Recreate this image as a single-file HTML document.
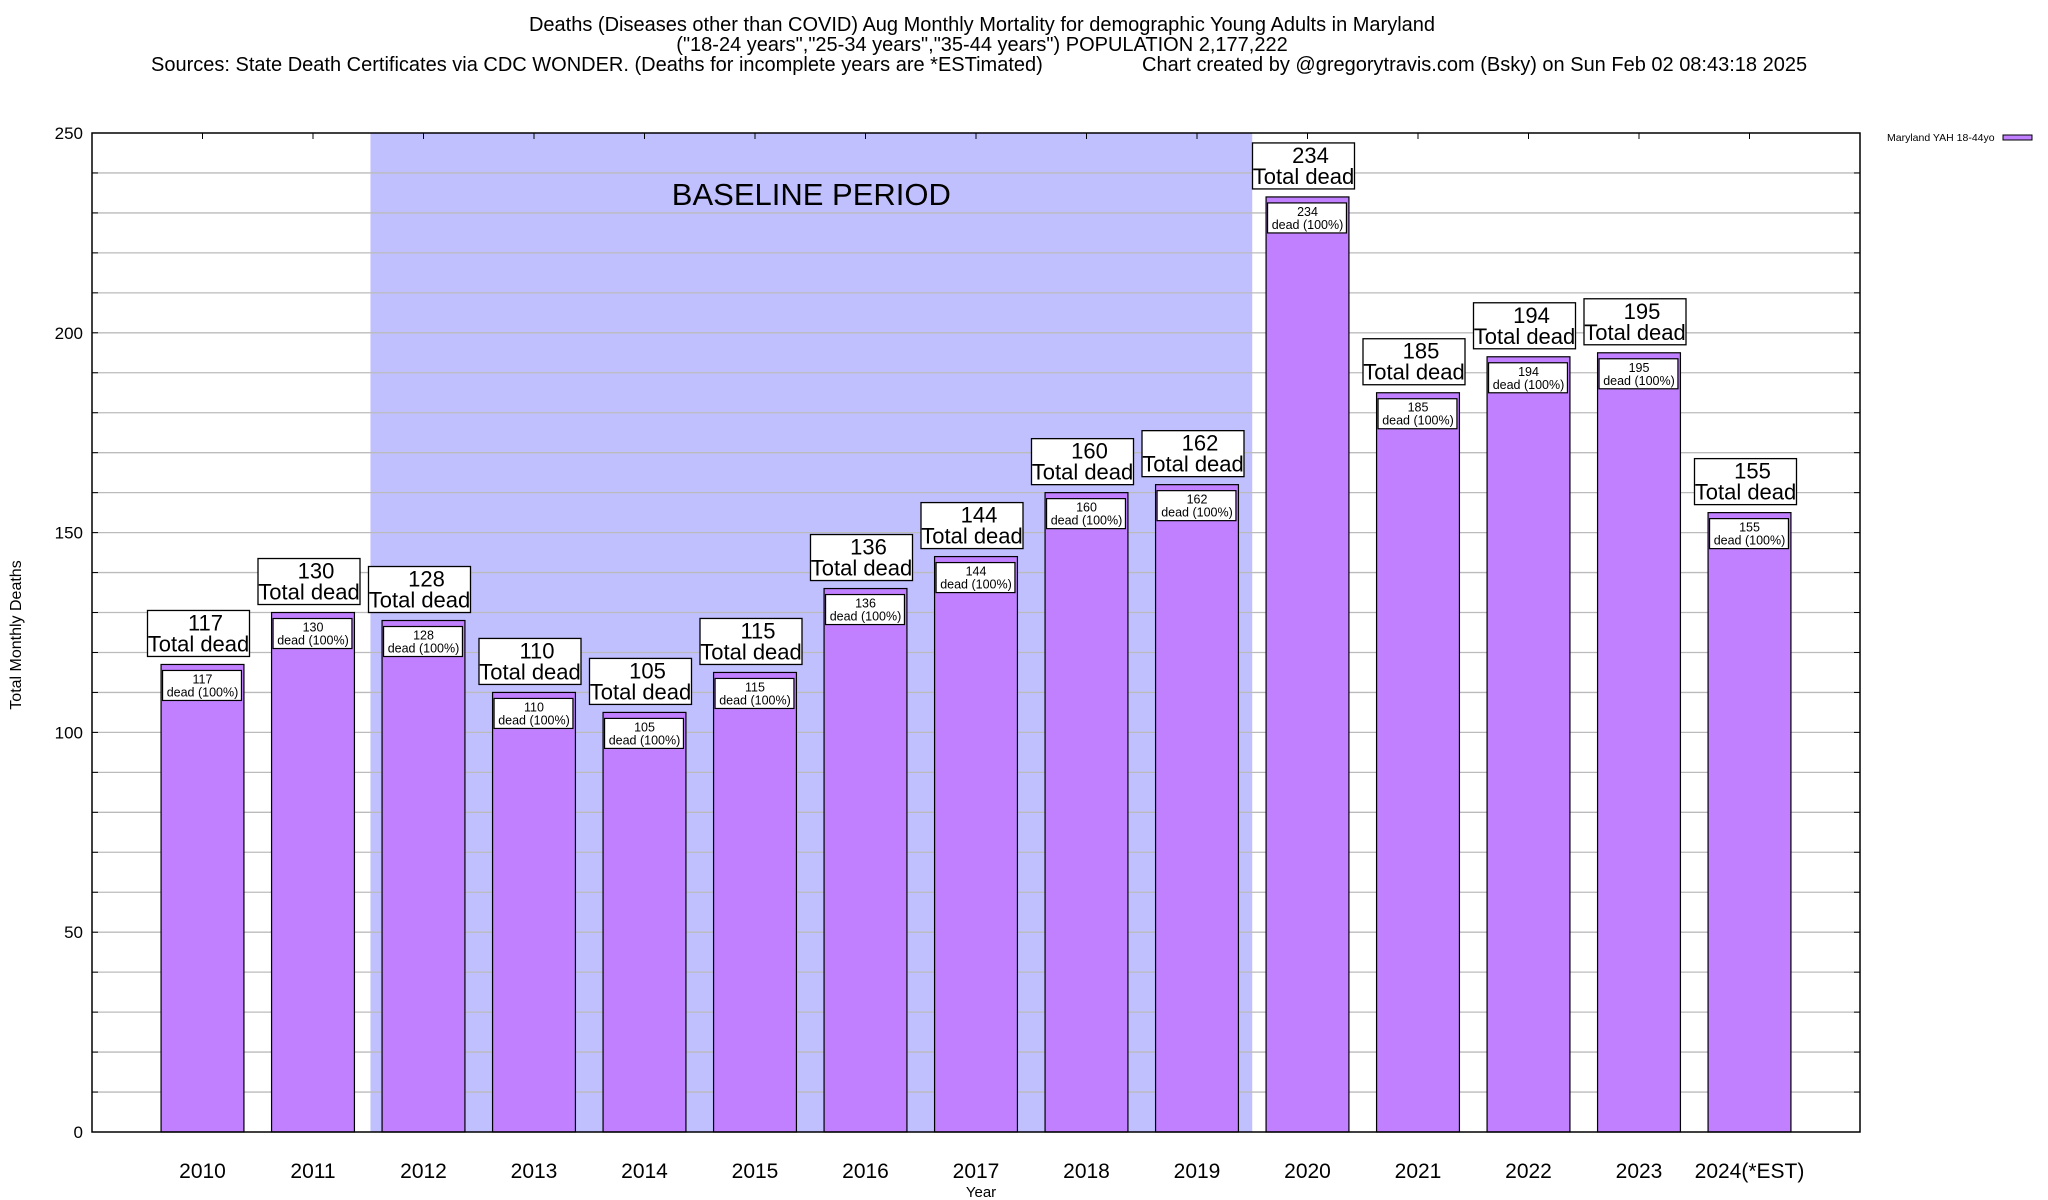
<!DOCTYPE html>
<html><head><meta charset="utf-8">
<style>
html,body{margin:0;padding:0;background:#fff;}
svg{display:block;font-family:"Liberation Sans",Arial,sans-serif;}
</style></head>
<body>
<svg id="chart" width="2048" height="1200" viewBox="0 0 2048 1200" xmlns="http://www.w3.org/2000/svg">
<g font-size="20" fill="#000">
<text x="982" y="31" text-anchor="middle">Deaths (Diseases other than COVID) Aug Monthly Mortality for demographic Young Adults in Maryland</text>
<text x="982" y="51" text-anchor="middle">("18-24 years","25-34 years","35-44 years") POPULATION 2,177,222</text>
<text x="151" y="71">Sources: State Death Certificates via CDC WONDER. (Deaths for incomplete years are *ESTimated)</text>
<text x="1142" y="71">Chart created by @gregorytravis.com (Bsky) on Sun Feb 02 08:43:18 2025</text>
</g>
<g id="plot"></g>
</svg>
<script>
const categories = ["2010","2011","2012","2013","2014","2015","2016","2017","2018","2019","2020","2021","2022","2023","2024(*EST)"];
const deaths = [117,130,128,110,105,115,136,144,160,162,234,185,194,195,155];
const yTicks = [0,50,100,150,200,250];
const baselineRange = [1.52, 9.5];

const NS = "http://www.w3.org/2000/svg";
const L=92, R=1860, T=133, B=1132;
const yMax=250;
const xs = i => L + (i+1)*(R-L)/16;
const ys = v => B - v*(B-T)/yMax;
const unit = (R-L)/16;
const g = document.getElementById('plot');
function el(tag, attrs, parent){
  const e=document.createElementNS(NS,tag);
  for(const k in attrs) e.setAttribute(k,attrs[k]);
  (parent||g).appendChild(e); return e;
}
const bs = el('rect',{x:xs(baselineRange[0]),y:T,width:xs(baselineRange[1])-xs(baselineRange[0]),height:B-T,fill:'#c0c0ff'});


const bt = el('text',{x:(xs(baselineRange[0])+xs(baselineRange[1]))/2,y:205,'font-size':31,'text-anchor':'middle'});
bt.textContent='BASELINE PERIOD';


for(let v=10; v<yMax; v+=10){
  const gl = el('line',{x1:L,x2:R,y1:ys(v),y2:ys(v),stroke:'#bbb','stroke-width':1.3});
  
  
  el('line',{x1:L,x2:L+6,y1:ys(v),y2:ys(v),stroke:'#000'});
  el('line',{x1:R-6,x2:R,y1:ys(v),y2:ys(v),stroke:'#000'});
}
yTicks.forEach(v=>{
  const t=el('text',{x:83,y:ys(v)+6,'font-size':17,'text-anchor':'end'});
  t.textContent=v;
  
  
});
categories.forEach((c,i)=>{
  const v=deaths[i], cx=xs(i), w=unit*0.75, x0=cx-w/2, top=ys(v);
  const bar=el('rect',{x:x0,y:top,width:w,height:B-top,fill:'#c080ff',stroke:'#000','stroke-width':1.2});
  
  
  const ib=el('rect',{x:x0+1.5,y:top+6,width:w-4,height:30,fill:'#fff',stroke:'#000','stroke-width':1.2});
  
  
  const t1=el('text',{x:cx,y:top+19,'font-size':12.5,'text-anchor':'middle'}); t1.textContent=v;
  
  
  const t2=el('text',{x:cx,y:top+32,'font-size':12.5,'text-anchor':'middle'}); t2.textContent='dead (100%)';
  
  
  const bw=102, bh=46, by=top-8-bh;
  const ob=el('rect',{x:cx-bw/2-4,y:by,width:bw,height:bh,fill:'#fff',stroke:'#000','stroke-width':1.3});
  
  
  const t3=el('text',{x:cx+3,y:by+20,'font-size':22,'text-anchor':'middle'}); t3.textContent=v;
  
  
  const t4=el('text',{x:cx-4,y:by+41,'font-size':22,'text-anchor':'middle'}); t4.textContent='Total dead';
  
  
  el('line',{x1:cx,x2:cx,y1:T,y2:T+6,stroke:'#000'});
  const xl=el('text',{x:cx,y:1178,'font-size':21,'text-anchor':'middle'}); xl.textContent=c;
  
  
});
const fr=el('rect',{x:L,y:T,width:R-L,height:B-T,fill:'none',stroke:'#000','stroke-width':1.5});


const xt=el('text',{x:981,y:1197,'font-size':15,'text-anchor':'middle'}); xt.textContent='Year';


const yt=el('text',{x:0,y:0,'font-size':16,'text-anchor':'middle',transform:'translate(21,635) rotate(-90)'}); yt.textContent='Total Monthly Deaths';


const lt=el('text',{x:1887,y:141,'font-size':10.5}); lt.textContent='Maryland YAH 18-44yo';


const ls=el('rect',{x:2003,y:135,width:29,height:5,fill:'#c080ff',stroke:'#000','stroke-width':1});


</script>
</body></html>
